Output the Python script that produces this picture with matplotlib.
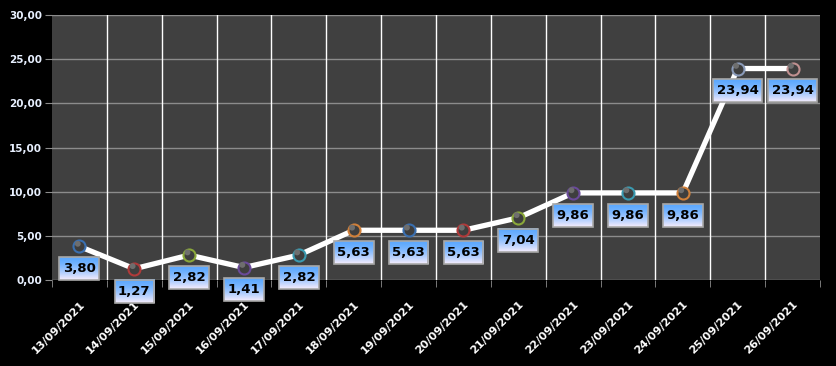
import matplotlib
matplotlib.use('Agg')
import matplotlib.pyplot as plt
from matplotlib.patches import Rectangle
import numpy as np

dates = ['13/09/2021', '14/09/2021', '15/09/2021', '16/09/2021', '17/09/2021',
         '18/09/2021', '19/09/2021', '20/09/2021', '21/09/2021', '22/09/2021',
         '23/09/2021', '24/09/2021', '25/09/2021', '26/09/2021']
values = [3.80, 1.27, 2.82, 1.41, 2.82, 5.63, 5.63, 5.63, 7.04, 9.86,
          9.86, 9.86, 23.94, 23.94]
y_ticks = [0, 5, 10, 15, 20, 25, 30]

MARKER_EDGES = ['#3a6fb0', '#b03a3a', '#8aa83a', '#6a4a9a', '#3a9ab0', '#d0803a',
                '#3a6fb0', '#b03a3a', '#8aa83a', '#6a4a9a', '#3a9ab0', '#d0803a',
                '#8a9ab8', '#c09090']

fig = plt.figure(figsize=(8.37, 3.66), dpi=100, facecolor='black')
ax = fig.add_axes([52 / 837, 1 - 280 / 366, 768 / 837, 265 / 366])
ax.set_facecolor('#404040')

x = np.arange(len(values))
ax.set_xlim(-0.5, len(values) - 0.5)
ax.set_ylim(0, 30)

# grid: grey horizontals, white verticals between categories
for yv in y_ticks:
    ax.axhline(yv, color='#8c8c8c', lw=1, zorder=1)
for b in np.arange(0.5, len(values) - 0.5, 1):
    ax.axvline(b, color='white', lw=1, zorder=1)

ax.plot(x, values, color='white', lw=3.8, zorder=3, solid_capstyle='round')
for xi, v, ec in zip(x, values, MARKER_EDGES):
    ax.scatter([xi], [v], s=75, facecolor='#3e3e3e', edgecolor=ec, linewidth=1.5, zorder=4)
    ax.scatter([xi - 0.03], [v + 0.3], s=18, facecolor='#6e6e6e', edgecolor='none', zorder=5)

for sp in ax.spines.values():
    sp.set_visible(False)

ax.set_yticks(y_ticks)
ax.set_yticklabels([f'{t:.2f}'.replace('.', ',') for t in y_ticks],
                   color='#e8f0ff', fontsize=7.5, fontweight='bold')
ax.tick_params(axis='y', length=5, color='#8c8c8c', pad=2)

ax.set_xticks(x)
ax.set_xticklabels(dates, rotation=45, ha='right', rotation_mode='anchor',
                   color='white', fontsize=8, fontweight='bold')
ax.set_xticks(np.arange(-0.5, len(values), 1), minor=True)
ax.tick_params(axis='x', which='major', length=0, pad=14)
ax.tick_params(axis='x', which='minor', length=5, color='#8c8c8c')

# data labels, boxes drawn afterwards with a gradient fill
texts = []
for xi, v in zip(x, values):
    t = ax.annotate(f'{v:.2f}'.replace('.', ','), xy=(xi, v), xytext=(0, -16),
                    textcoords='offset points', ha='center', va='center',
                    fontsize=9.5, fontweight='bold', color='black', zorder=8)
    texts.append(t)

fig.canvas.draw()
grad = np.linspace(0, 1, 64).reshape(-1, 1) ** 1.5
top = np.array([0.36, 0.66, 1.0])
bot = np.array([0.97, 0.93, 0.99])
img = top[None, None, :] * (1 - grad[:, :, None]) + bot[None, None, :] * grad[:, :, None]
inv = ax.transData.inverted()
for t in texts:
    bb = t.get_window_extent()
    cx, cy = (bb.x0 + bb.x1) / 2, (bb.y0 + bb.y1) / 2
    w, h = bb.width + 7, 23
    (x0, y0), (x1, y1) = inv.transform([(cx - w / 2, cy - h / 2), (cx + w / 2, cy + h / 2)])
    ax.imshow(img, extent=(x0, x1, y0, y1), aspect='auto', origin='upper',
              zorder=7, clip_on=False, interpolation='bilinear')
    ax.add_patch(Rectangle((x0, y0), x1 - x0, y1 - y0, facecolor='none',
                           edgecolor='#a8a8a8', lw=1.2, zorder=7.5, clip_on=False))
ax.set_xlim(-0.5, len(values) - 0.5)
ax.set_ylim(0, 30)

fig.savefig('out.png', dpi=100, facecolor='black')
